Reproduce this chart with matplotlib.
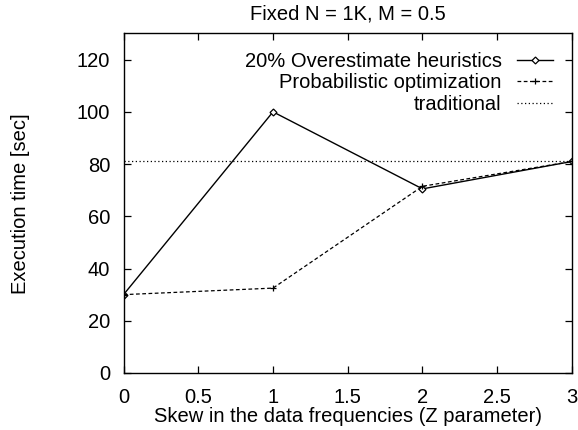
import matplotlib.pyplot as plt
import numpy as np

plt.rcParams['font.family'] = ['Liberation Sans', 'DejaVu Sans']

# data
skew = [0, 1, 2, 3]
heuristic = [30, 100, 70.5, 81]
probabilistic = [30, 32.5, 71.5, 81]
traditional = 81

fs = 14.5

fig = plt.figure(figsize=(5.78, 4.30), dpi=100)
ax = fig.add_axes([0.2137, 0.1326, 0.7759, 0.7895])

ax.plot(skew, heuristic, color='black', linewidth=1.0, marker='D', markersize=3.5,
        markerfacecolor='white', markeredgewidth=0.9, label='20% Overestimate heuristics')
ax.plot(skew, probabilistic, color='black', linewidth=0.9, linestyle=(0, (3, 2)),
        marker='+', markersize=5, markeredgewidth=0.9, label='Probabilistic optimization')
ax.axhline(traditional, color='black', linewidth=0.9, linestyle=(0, (1, 2)), label='traditional')

ax.set_xlim(0, 3)
ax.set_ylim(0, 130)
ax.set_xticks([0, 0.5, 1, 1.5, 2, 2.5, 3])
ax.set_xticklabels(['0', '0.5', '1', '1.5', '2', '2.5', '3'])
ax.set_yticks(np.arange(0, 121, 20))
ax.tick_params(direction='in', top=True, right=True, labelsize=fs, length=5, width=0.9)
ax.tick_params(axis='x', pad=11)
ax.tick_params(axis='y', pad=9.5)
for s in ax.spines.values():
    s.set_linewidth(1.0)

ax.set_title('Fixed N = 1K, M = 0.5', fontsize=fs, pad=10)
ax.set_xlabel('Skew in the data frequencies (Z parameter)', fontsize=fs, labelpad=0)
ax.set_ylabel('Execution time [sec]', fontsize=fs)
ax.yaxis.set_label_coords(-0.208, 0.5)

ax.legend(loc='upper right', bbox_to_anchor=(0.9576, 0.946), frameon=False, markerfirst=False,
          fontsize=fs, handlelength=1.8, labelspacing=0.12, handletextpad=0.75,
          borderpad=0, borderaxespad=0)

plt.savefig('out.png', dpi=100)
